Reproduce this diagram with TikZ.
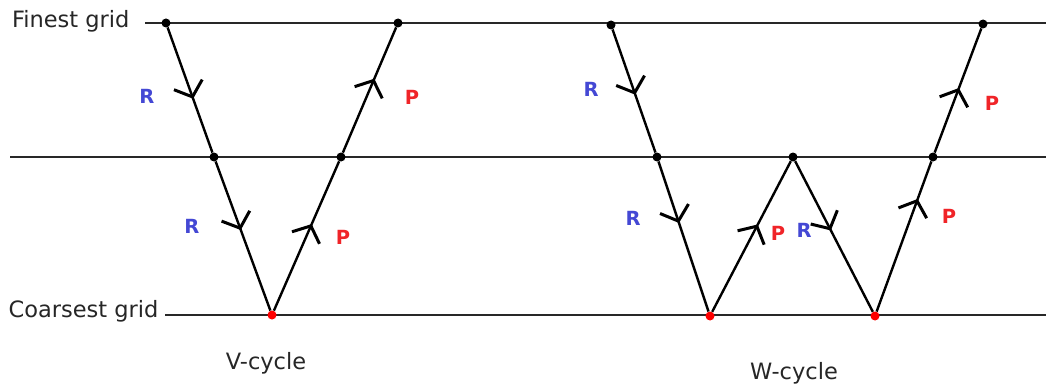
\documentclass[tikz,border=0pt]{standalone}
\usepackage{fontspec}
\setmainfont{DejaVu Sans}
\usetikzlibrary{arrows.meta,decorations.markings}
\definecolor{rblue}{RGB}{68,72,212}
\definecolor{pred}{RGB}{240,36,40}
\definecolor{gridgray}{RGB}{40,40,40}
\tikzset{
  gridline/.style={draw=gridgray,line width=1.5pt},
  seg/.style={draw=black,line width=2.4pt},
  chev/.style={postaction={decorate,decoration={markings,
      mark=at position #1 with {\arrow{Straight Barb[length=13pt,width=30pt,line width=3pt]}}}}},
  dot/.style={circle,fill=black,inner sep=0pt,minimum size=9pt},
  rdot/.style={circle,fill=red,inner sep=0pt,minimum size=9pt},
  gridtext/.style={font=\fontsize{22.5}{26}\selectfont,text=black!85},
  rlab/.style={font=\fontsize{19.5}{22}\selectfont\bfseries,text=rblue},
  plab/.style={font=\fontsize{19.5}{22}\selectfont\bfseries,text=pred},
}
\begin{document}
\begin{tikzpicture}[x=1pt,y=-1pt]
\useasboundingbox (0,0) rectangle (1046,385);
% grid lines
\coordinate (t0) at (145,23); \coordinate (t1) at (1046,23);
\coordinate (m0) at (10,157); \coordinate (m1) at (1046,157);
\coordinate (b0) at (165,315); \coordinate (b1) at (1046,315);
\draw[gridline] (t0) -- (t1);
\draw[gridline] (m0) -- (m1);
\draw[gridline] (b0) -- (b1);
\node[gridtext,anchor=east] (fg) at (133,21) {Finest grid};
\node[gridtext,anchor=east] (cg) at (162,311) {Coarsest grid};
% V-cycle
\node[dot] (v1) at (166,23) {};
\node[dot] (v2) at (214,157) {};
\node[rdot] (v3) at (272,315) {};
\node[dot] (v4) at (341,157) {};
\node[dot] (v5) at (398,23) {};
\draw[seg,chev=0.57] (v1) -- (v2);
\draw[seg,chev=0.46] (v2) -- (v3);
\draw[seg,chev=0.58] (v3) -- (v4);
\draw[seg,chev=0.59] (v4) -- (v5);
\node[rlab] (vr1) at (147,96) {R};
\node[rlab] (vr2) at (192,226) {R};
\node[plab] (vp1) at (343,237) {P};
\node[plab] (vp2) at (412,97) {P};
\node[gridtext] (vc) at (266,363) {V-cycle};
% W-cycle
\node[dot] (w1) at (611,25) {};
\node[dot] (w2) at (657,157) {};
\node[rdot] (w3) at (710,316) {};
\node[dot] (w4) at (793,157) {};
\node[rdot] (w5) at (875,316) {};
\node[dot] (w6) at (933,157) {};
\node[dot] (w7) at (983,24) {};
\draw[seg,chev=0.53] (w1) -- (w2);
\draw[seg,chev=0.41] (w2) -- (w3);
\draw[seg,chev=0.58] (w3) -- (w4);
\draw[seg,chev=0.46] (w4) -- (w5);
\draw[seg,chev=0.75] (w5) -- (w6);
\draw[seg,chev=0.52] (w6) -- (w7);
\node[rlab] (wr1) at (591,89) {R};
\node[rlab] (wr2) at (633,218) {R};
\node[plab] (wp1) at (778,233) {P};
\node[rlab] (wr3) at (804,230) {R};
\node[plab] (wp2) at (949,216) {P};
\node[plab] (wp3) at (992,103) {P};
\node[gridtext] (wc) at (794,373) {W-cycle};
\end{tikzpicture}
\end{document}
